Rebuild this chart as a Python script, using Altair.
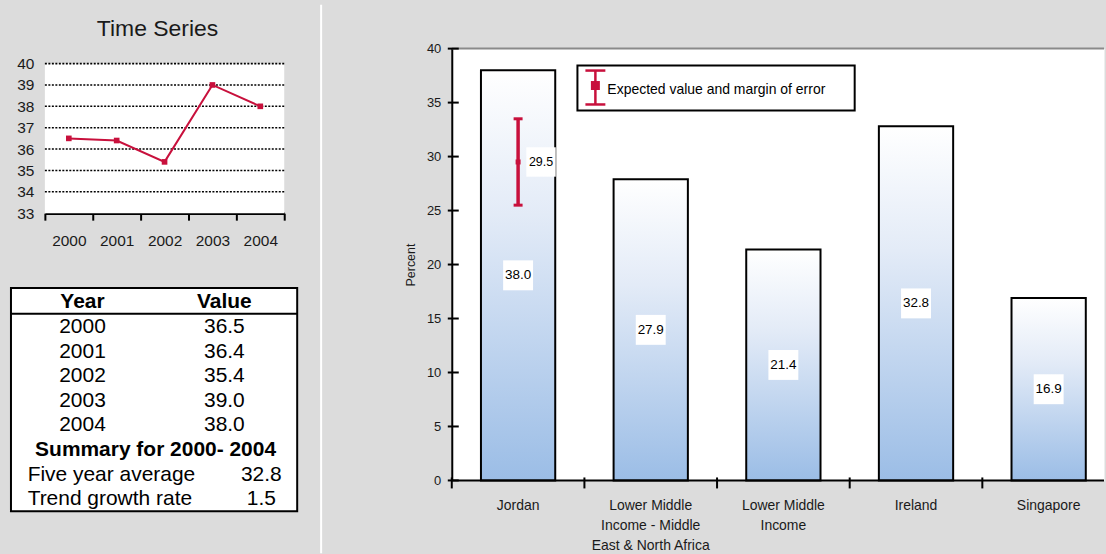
import altair as alt
import pandas as pd

# ---------------- data ----------------
years = ["2000", "2001", "2002", "2003", "2004"]
series_values = [36.5, 36.4, 35.4, 39.0, 38.0]
series_ticks = [33, 34, 35, 36, 37, 38, 39, 40]

summary_title = "Summary for 2000- 2004"
summary_labels = ["Five year average", "Trend growth rate"]
summary_values = [32.8, 1.5]

categories = [
    "Jordan",
    "Lower Middle Income - Middle East & North Africa",
    "Lower Middle Income",
    "Ireland",
    "Singapore",
]
category_lines = [
    ["Jordan"],
    ["Lower  Middle", "Income - Middle", "East &  North Africa"],
    ["Lower Middle", "Income"],
    ["Ireland"],
    ["Singapore"],
]
percent = [38.0, 27.9, 21.4, 32.8, 16.9]
percent_ticks = [0, 5, 10, 15, 20, 25, 30, 35, 40]

expected_category = "Jordan"
expected_value = 29.5
expected_low = 25.5
expected_high = 33.5

CRIMSON = "#c8103c"
FONT = "Liberation Sans"
TXT = "#1a1a1a"

# ---------------- time series panel ----------------
ts_df = pd.DataFrame({"year": years, "value": series_values})
grid_df = pd.DataFrame({"v": series_ticks[1:]})
band_df = pd.DataFrame({"lo": [series_ticks[0]], "hi": [series_ticks[-1]]})

ts_y_scale = alt.Scale(domain=[33, 40], range=[165, 15], nice=False, zero=False)
ts_y_axis = alt.Axis(
    title=None, values=series_ticks, domain=False, ticks=False, tickSize=0,
    grid=False, labelFontSize=15.5, labelColor=TXT, labelPadding=11,
)
ts_x = alt.X(
    "year:O",
    bandPosition=0.5,
    scale=alt.Scale(type="band", domain=years, paddingInner=0, paddingOuter=0),
    axis=alt.Axis(
        title=None, labelAngle=0, domainColor="black", domainWidth=2.5,
        tickColor="black", tickWidth=2, tickSize=7, tickBand="extent",
        labelFontSize=15.5, labelColor=TXT, labelPadding=13, grid=False,
    ),
)

ts_bg = alt.Chart(band_df).mark_rect(color="white").encode(
    y=alt.Y("lo:Q", scale=ts_y_scale, axis=ts_y_axis), y2="hi:Q"
)
ts_grid = alt.Chart(grid_df).mark_rule(
    color="black", strokeWidth=1.6, strokeDash=[2, 1.5]
).encode(y=alt.Y("v:Q", scale=ts_y_scale, axis=ts_y_axis))
ts_line = alt.Chart(ts_df).mark_line(
    color=CRIMSON, strokeWidth=2,
    point=alt.OverlayMarkDef(shape="square", size=32, filled=True, color=CRIMSON, opacity=1),
).encode(x=ts_x, y=alt.Y("value:Q", scale=ts_y_scale, axis=ts_y_axis))

ts_chart = alt.layer(ts_bg, ts_grid, ts_line).properties(
    width=240,
    height=165,
    title=alt.TitleParams(
        "Time Series", fontSize=23, fontWeight="normal", color=TXT,
        anchor="middle", frame="group", dx=-7, offset=-10, baseline="alphabetic",
    ),
    view=alt.ViewBackground(fill="transparent", stroke="transparent"),
)

# ---------------- summary table ----------------
# x in table units (distance from the box's left edge), y in row units
COL_YEAR, COL_VALUE, COL_MID, COL_LEFT, COL_RIGHT = 71.7, 214, 145, 16.7, 251
TABLE_W = 287
ROW_TOP, ROW_BOTTOM = -0.58, 8.49
HEADER_RULE = 0.47

tx = alt.Scale(domain=[0, TABLE_W], range=[-34, 253])
ty = alt.Scale(domain=[ROW_TOP, ROW_BOTTOM], range=[0, 224])

bold_df = pd.DataFrame({
    "x": [COL_YEAR, COL_VALUE, COL_MID],
    "row": [0, 0, 6],
    "t": ["Year", "Value", summary_title],
})
plain_df = pd.DataFrame({
    "x": [COL_YEAR] * len(years) + [COL_VALUE] * len(series_values) + [COL_RIGHT] * len(summary_values),
    "row": list(range(1, 6)) + list(range(1, 6)) + [7, 8],
    "t": years + [f"{v:.1f}" for v in series_values] + [f"{v:.1f}" for v in summary_values],
})
left_df = pd.DataFrame({"x": [COL_LEFT] * 2, "row": [7, 8], "t": summary_labels})
box_df = pd.DataFrame({"x0": [0], "x1": [TABLE_W], "r0": [ROW_TOP], "r1": [ROW_BOTTOM]})
rule_df = pd.DataFrame({"x0": [0], "x1": [TABLE_W], "r": [HEADER_RULE]})


def tab_x(f):
    return alt.X(f, scale=tx, axis=None)


def tab_y(f):
    return alt.Y(f, scale=ty, axis=None)


tbl_box = alt.Chart(box_df).mark_rect(fill="white", stroke="black", strokeWidth=2).encode(
    x=tab_x("x0:Q"), x2="x1:Q", y=tab_y("r0:Q"), y2="r1:Q"
)
tbl_rule = alt.Chart(rule_df).mark_rule(color="black", strokeWidth=2).encode(
    x=tab_x("x0:Q"), x2="x1:Q", y=tab_y("r:Q")
)
tbl_bold = alt.Chart(bold_df).mark_text(
    fontSize=21, fontWeight="bold", color="black", align="center", baseline="middle"
).encode(x=tab_x("x:Q"), y=tab_y("row:Q"), text="t:N")
tbl_plain = alt.Chart(plain_df).mark_text(
    fontSize=21, color="black", align="center", baseline="middle"
).encode(x=tab_x("x:Q"), y=tab_y("row:Q"), text="t:N")
tbl_left = alt.Chart(left_df).mark_text(
    fontSize=21, color="black", align="left", baseline="middle"
).encode(x=tab_x("x:Q"), y=tab_y("row:Q"), text="t:N")

table_chart = alt.layer(tbl_box, tbl_rule, tbl_bold, tbl_plain, tbl_left).properties(
    width=253, height=224,
    view=alt.ViewBackground(fill="transparent", stroke="transparent"),
)

left_column = alt.vconcat(ts_chart, table_chart, spacing=75, bounds="flush")

# ---------------- bar chart panel ----------------
bar_df = pd.DataFrame({"cat": categories, "pct": percent})
bar_df["half"] = bar_df["pct"] / 2
bar_df["label"] = [f"{v:.1f}" for v in percent]
bar_df["name"] = ["\n".join(lines) for lines in category_lines]
err_df = pd.DataFrame({
    "cat": [expected_category], "lo": [expected_low], "hi": [expected_high],
    "mid": [expected_value], "label": [f"{expected_value:.1f}"],
})
ytick_df = pd.DataFrame({"v": percent_ticks})
one = pd.DataFrame({"k": [0]})

# the category steps run past the right edge of the plot, as in a cropped frame;
# category names are drawn as text at the band centres instead of an axis
x_scale = alt.Scale(domain=categories, range=[0, 665], paddingInner=0, paddingOuter=0)
bx = alt.X("cat:N", sort=categories, scale=x_scale, axis=None)
bx_edge = alt.X("cat:N", sort=categories, scale=x_scale, axis=None, bandPosition=0)

y_scale = alt.Scale(domain=[0, 40], nice=False, zero=True)
by_axis = alt.Axis(
    title="Percent", values=percent_ticks, domainColor="black", domainWidth=2,
    ticks=False, tickSize=0, grid=False, labelFontSize=13, labelColor=TXT,
    labelPadding=11, titleFontSize=12.5, titleFontWeight="normal", titleColor=TXT,
    titlePadding=9,
)


def py(f):
    return alt.Y(f, scale=y_scale, axis=by_axis)


gradient = alt.LinearGradient(
    gradient="linear",
    stops=[
        alt.GradientStop(color="#ffffff", offset=0),
        alt.GradientStop(color="#e3ebf7", offset=0.35),
        alt.GradientStop(color="#9bbde6", offset=1),
    ],
    x1=0, x2=0, y1=0, y2=1,
)

separator = alt.Chart(one).mark_rule(color="white", strokeWidth=2).encode(
    x=alt.value(-131), y=alt.value(-44), y2=alt.value(506)
)
top_border = alt.Chart(one).mark_rule(color="#8a8a8a", strokeWidth=2).encode(
    y=alt.Y(datum=40, scale=y_scale, axis=by_axis)
)
bars = alt.Chart(bar_df).mark_bar(
    fill=gradient, stroke="black", strokeWidth=2, width=alt.RelativeBandSize(0.56)
).encode(x=bx, y=py("pct:Q"))
x_line = alt.Chart(one).mark_rule(color="black", strokeWidth=2).encode(
    y=alt.Y(datum=0, scale=y_scale, axis=by_axis)
)
x_ticks = alt.Chart(bar_df).mark_rule(color="black", strokeWidth=2).encode(
    x=bx_edge, y=alt.value(430), y2=alt.value(441),
)
x_names = alt.Chart(bar_df).mark_text(
    fontSize=14, color=TXT, align="center", baseline="top", lineBreak="\n", lineHeight=20
).encode(x=bx, y=alt.value(452), text="name:N")
y_ticks = alt.Chart(ytick_df).mark_rule(color="black", strokeWidth=2).encode(
    y=py("v:Q"), x=alt.value(-4), x2=alt.value(7)
)
label_boxes = alt.Chart(bar_df).mark_square(size=900, color="white", opacity=1).encode(
    x=bx, y=py("half:Q")
)
label_text = alt.Chart(bar_df).mark_text(fontSize=13.5, color="black").encode(
    x=bx, y=py("half:Q"), text="label:N"
)
err_rule = alt.Chart(err_df).mark_rule(color=CRIMSON, strokeWidth=3.5).encode(
    x=bx, y=py("lo:Q"), y2="hi:Q"
)
err_cap_lo = alt.Chart(err_df).mark_tick(color=CRIMSON, size=9, thickness=3, opacity=1).encode(
    x=bx, y=py("lo:Q")
)
err_cap_hi = alt.Chart(err_df).mark_tick(color=CRIMSON, size=9, thickness=3, opacity=1).encode(
    x=bx, y=py("hi:Q")
)
err_mid = alt.Chart(err_df).mark_square(color=CRIMSON, size=25, opacity=1).encode(
    x=bx, y=py("mid:Q")
)
err_box = alt.Chart(err_df).mark_square(color="white", size=870, opacity=1, xOffset=23).encode(
    x=bx, y=py("mid:Q")
)
err_text = alt.Chart(err_df).mark_text(fontSize=12.5, color="black", dx=23).encode(
    x=bx, y=py("mid:Q"), text="label:N"
)

# legend box with the error-bar glyph
leg_box = alt.Chart(one).mark_rect(fill="white", stroke="black", strokeWidth=2).encode(
    x=alt.value(126), x2=alt.value(404), y=alt.value(17), y2=alt.value(62)
)
leg_stem = alt.Chart(one).mark_rule(color=CRIMSON, strokeWidth=2.5).encode(
    x=alt.value(144), y=alt.value(22), y2=alt.value(56)
)
leg_cap_top = alt.Chart(one).mark_rule(color=CRIMSON, strokeWidth=2.5).encode(
    x=alt.value(134), x2=alt.value(154), y=alt.value(22)
)
leg_cap_bot = alt.Chart(one).mark_rule(color=CRIMSON, strokeWidth=2.5).encode(
    x=alt.value(134), x2=alt.value(154), y=alt.value(56)
)
leg_sq = alt.Chart(one).mark_square(color=CRIMSON, size=81, opacity=1).encode(
    x=alt.value(144), y=alt.value(37)
)
leg_text = alt.Chart(one).mark_text(
    fontSize=14, color="black", align="left", baseline="alphabetic"
).encode(x=alt.value(156), y=alt.value(46), text=alt.value("Expected value and margin of error"))

bar_chart = alt.layer(
    separator, top_border, bars, x_line, x_ticks, x_names, y_ticks,
    label_boxes, label_text,
    err_rule, err_cap_lo, err_cap_hi, err_mid, err_box, err_text,
    leg_box, leg_stem, leg_cap_top, leg_cap_bot, leg_sq, leg_text,
).properties(
    width=654, height=433,
    view=alt.ViewBackground(fill="white", stroke="transparent"),
)

# the nested column reports no width under flush bounds, so the gap is
# measured from the left column's plot origin
chart = alt.hconcat(left_column, bar_chart, spacing=408, bounds="flush").configure(
    background="#dcdcdc",
    padding={"left": 9, "top": 2, "right": 0, "bottom": 0},
    font=FONT,
)

chart.save("out.html", embed_options={"renderer": "svg", "actions": False})
